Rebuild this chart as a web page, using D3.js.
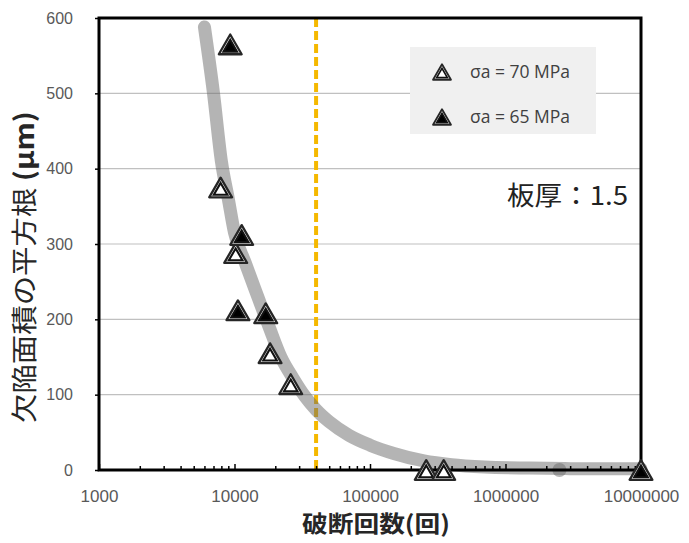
<!DOCTYPE html>
<html>
<head>
<meta charset="utf-8">
<script src="https://cdn.jsdelivr.net/npm/d3@7"></script>
<style>
  body { margin: 0; background: #fff; }
  svg { display: block; }
</style>
</head>
<body>
<svg id="chart" width="689" height="543"></svg>
<script>
var svg = d3.select("#chart");

// plot box
var plotLeft = 99, plotRight = 641, plotTop = 18, plotBottom = 470;

// values
var xTicks = [1000, 10000, 100000, 1000000, 10000000];
var yTicks = [0, 100, 200, 300, 400, 500, 600];

// sigma a = 70 MPa (open triangles)
var open70N = [7900, 10200, 18300, 26000, 260000, 350000];
var open70R = [375, 288, 155, 114, 0, 0];

// sigma a = 65 MPa (filled triangles)
var fill65N = [9300, 11300, 10600, 17000, 10000000];
var fill65R = [565, 312, 212, 208, 0];

// grey trend band
var curveN = [6000, 7000, 8000, 9000, 10000, 12000, 15000, 18000, 22000, 27000, 33000, 40000,
  50000, 70000, 100000, 150000, 250000, 400000, 700000, 1500000, 3000000, 10000000];
var curveR = [588, 500, 410, 360, 315, 275, 228, 190, 150, 122, 98, 80,
  64, 46, 33, 22, 12, 7, 4, 2.5, 1.8, 1.5];
var bumpN = [2500000];
var bumpR = [0];

var limitN = 40000;

var legendLabels = ["\u03c3a = 70 MPa", "\u03c3a = 65 MPa"];

var xScale = d3.scaleLog().domain([1000, 10000000]).range([plotLeft, plotRight]);
var yScale = d3.scaleLinear().domain([0, 600]).range([plotBottom, plotTop]);

// gridlines
svg.append("g").selectAll("line")
  .data(yTicks.filter(function (d) { return d > 0 && d < 600; }))
  .join("line")
  .attr("x1", plotLeft).attr("x2", plotRight)
  .attr("y1", function (d) { return yScale(d); })
  .attr("y2", function (d) { return yScale(d); })
  .attr("stroke", "#c0c0c0").attr("stroke-width", 1.2);

// legend box (covers gridline)
svg.append("rect")
  .attr("x", 410).attr("y", 47).attr("width", 186).attr("height", 87)
  .attr("fill", "#f0f0f0");

// yellow dashed limit line
svg.append("line")
  .attr("x1", xScale(limitN)).attr("x2", xScale(limitN))
  .attr("y1", plotTop).attr("y2", plotBottom)
  .attr("stroke", "#f5b800").attr("stroke-width", 4)
  .attr("stroke-dasharray", "9,4");

// grey band
var line = d3.line()
  .x(function (d) { return xScale(d[0]); })
  .y(function (d) { return yScale(d[1]); })
  .curve(d3.curveMonotoneX);

var band = svg.append("g").attr("opacity", 0.5);
band.append("path")
  .datum(d3.zip(curveN, curveR))
  .attr("d", line)
  .attr("fill", "none")
  .attr("stroke", "#6a6a6a")
  .attr("stroke-width", 13)
  .attr("stroke-linecap", "round")
  .attr("stroke-linejoin", "round");
svg.append("g").attr("opacity", 0.5).selectAll("circle")
  .data(d3.zip(bumpN, bumpR))
  .join("circle")
  .attr("cx", function (d) { return xScale(d[0]); })
  .attr("cy", function (d) { return yScale(d[1]); })
  .attr("r", 7)
  .attr("fill", "#6a6a6a");

// y axis ticks + labels
var yAxis = d3.axisLeft(yScale).tickValues(yTicks).tickSize(4).tickPadding(22);
var gy = svg.append("g").attr("transform", "translate(" + plotLeft + ",0)").call(yAxis);
gy.select(".domain").remove();
gy.selectAll(".tick line").attr("stroke", "#000").attr("stroke-width", 1.5);
gy.selectAll("text")
  .attr("font-family", "Liberation Sans, Arial, sans-serif")
  .attr("font-size", 16).attr("fill", "#595959");

// x axis: minor ticks
var minors = [];
for (var e = 3; e < 7; e++) {
  for (var m = 2; m <= 9; m++) minors.push(m * Math.pow(10, e));
}
var gxm = svg.append("g").attr("transform", "translate(0," + plotBottom + ")")
  .call(d3.axisBottom(xScale).tickValues(minors).tickSize(-4).tickFormat(""));
gxm.select(".domain").remove();
gxm.selectAll(".tick line").attr("stroke", "#000").attr("stroke-width", 1.5);

// x axis: majors + labels
var gx = svg.append("g").attr("transform", "translate(0," + plotBottom + ")")
  .call(d3.axisBottom(xScale).tickValues(xTicks).tickSize(-6).tickPadding(20)
    .tickFormat(d3.format("d")));
gx.select(".domain").remove();
gx.selectAll(".tick line").attr("stroke", "#000").attr("stroke-width", 1.5);
gx.selectAll("text")
  .attr("font-family", "Liberation Sans, Arial, sans-serif")
  .attr("font-size", 17).attr("fill", "#595959");

// frame
svg.append("rect")
  .attr("x", plotLeft).attr("y", plotTop)
  .attr("width", plotRight - plotLeft).attr("height", plotBottom - plotTop)
  .attr("fill", "none").attr("stroke", "#000").attr("stroke-width", 3);

// double outlined triangle marker
function drawTri(g, cx, cy, scale, filled) {
  var outer = 225 * scale, inner = 80 * scale;
  var h = Math.sqrt(outer * 4 / Math.sqrt(3)) * Math.sqrt(3) / 2;
  var t = g.append("g").attr("transform", "translate(" + cx + "," + (cy + h / 6) + ")");
  t.append("path")
    .attr("d", d3.symbol(d3.symbolTriangle, outer)())
    .attr("fill", "#fff").attr("stroke", "#262626")
    .attr("stroke-width", 2.3 * Math.sqrt(scale)).attr("stroke-linejoin", "round");
  t.append("path")
    .attr("d", d3.symbol(d3.symbolTriangle, inner)())
    .attr("fill", filled ? "#000" : "#fff")
    .attr("stroke", "#111").attr("stroke-width", 2.1 * Math.sqrt(scale));
}

var marks = svg.append("g");
open70N.forEach(function (n, i) {
  drawTri(marks, xScale(n), yScale(open70R[i]), 1, false);
});
fill65N.forEach(function (n, i) {
  drawTri(marks, xScale(n), yScale(fill65R[i]), 1, true);
});

// legend
legendLabels.forEach(function (lab, i) {
  var ly = 72 + i * 45;
  drawTri(svg, 442, ly, 0.62, i === 1);
  svg.append("text")
    .attr("x", 470).attr("y", ly + 6)
    .attr("font-family", "Open Sans, sans-serif")
    .attr("font-size", 17.5).attr("fill", "#404040")
    .text(lab);
});

// annotation
svg.append("text")
  .attr("x", 507).attr("y", 205)
  .attr("font-family", "Noto Sans CJK JP, sans-serif")
  .attr("font-size", 26).attr("fill", "#222")
  .attr("textLength", 121).attr("lengthAdjust", "spacingAndGlyphs")
  .text("板厚：1.5");

// axis titles
svg.append("text")
  .attr("x", 376).attr("y", 532)
  .attr("text-anchor", "middle")
  .attr("font-family", "Noto Sans CJK JP, sans-serif")
  .attr("font-size", 23).attr("font-weight", "bold").attr("fill", "#262626")
  .attr("textLength", 148).attr("lengthAdjust", "spacingAndGlyphs")
  .text("破断回数(回)");

var yTitle = svg.append("text")
  .attr("transform", "translate(34,267) rotate(-90)")
  .attr("text-anchor", "middle")
  .attr("font-family", "Noto Sans CJK JP, sans-serif")
  .attr("font-size", 26).attr("fill", "#262626")
  .attr("textLength", 312).attr("lengthAdjust", "spacingAndGlyphs");
yTitle.append("tspan").text("欠陥面積の平方根 ");
yTitle.append("tspan").attr("font-weight", "bold").text("(μm)");
</script>
</body>
</html>
